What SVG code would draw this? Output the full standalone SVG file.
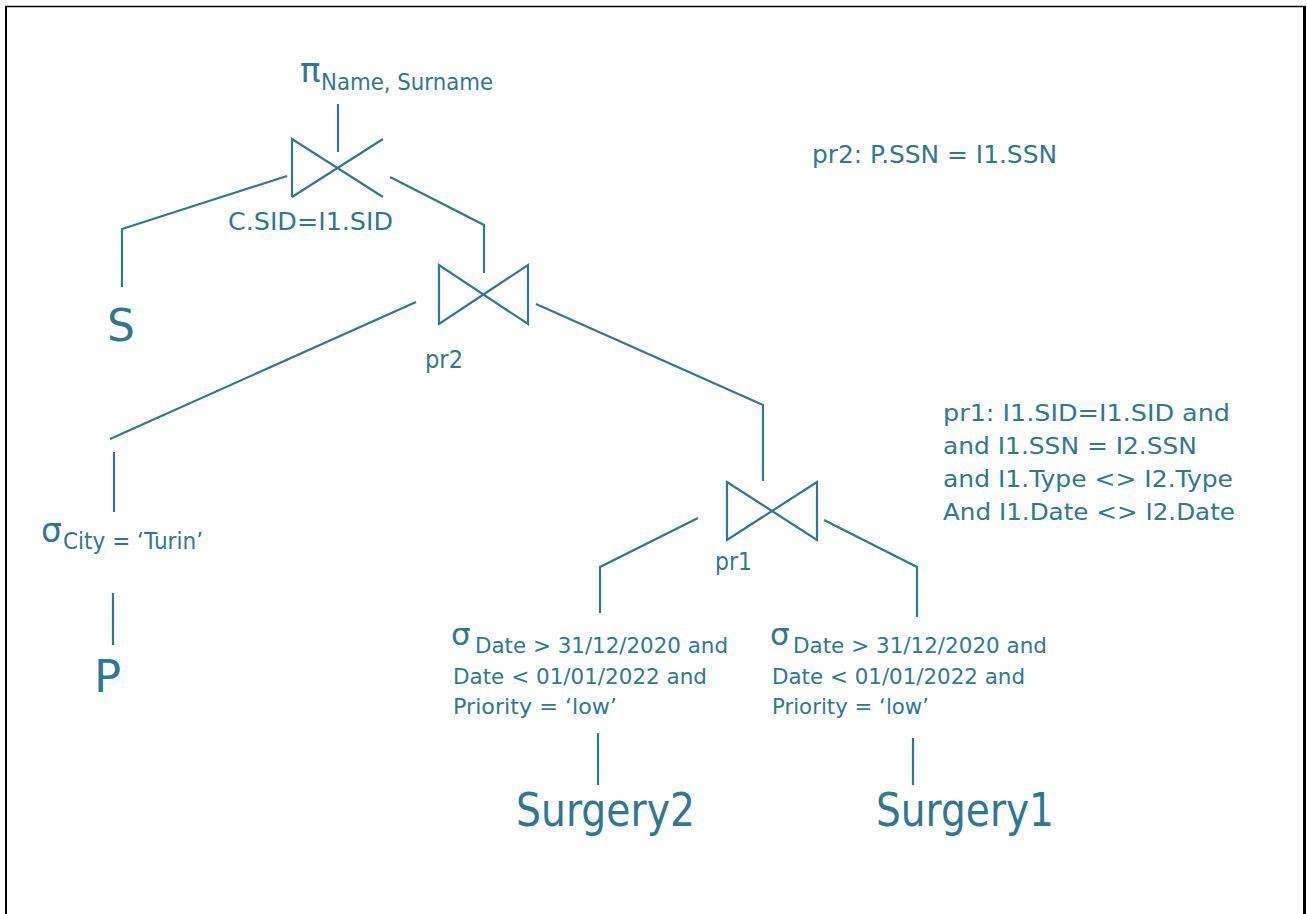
<svg xmlns="http://www.w3.org/2000/svg" width="1307" height="914" viewBox="0 0 1307 914">
<style>
.t{font-family:"DejaVu Sans","Verdana",sans-serif;fill:#2E7891;}
.l{stroke:#2E7891;stroke-width:2.2;fill:none;}
.b{stroke:#000;fill:none;}
</style>
<rect width="1307" height="914" fill="#fff"/>
<g id="frame">
<line class="b" x1="6" y1="6" x2="6" y2="914" stroke-width="2"/>
<line class="b" x1="5" y1="6.5" x2="1305" y2="6.5" stroke-width="1.6"/>
<line class="b" x1="1304.5" y1="6" x2="1304.5" y2="914" stroke-width="3"/>
</g>
<g id="connectors">
<line class="l" x1="338" y1="104" x2="338" y2="152"/>
<polyline class="l" points="287,176 122,229 122,287"/>
<polyline class="l" points="390,177 484,225 484,273"/>
<polyline class="l" points="416,302 110,439"/>
<line class="l" x1="114" y1="452" x2="114" y2="512"/>
<line class="l" x1="113" y1="593" x2="113" y2="645"/>
<polyline class="l" points="536,304 763,405 763,481"/>
<polyline class="l" points="698,518 600,567 600,613"/>
<polyline class="l" points="824,520 917,567 917,617"/>
<line class="l" x1="598" y1="733" x2="598" y2="785"/>
<line class="l" x1="913" y1="738" x2="913" y2="785"/>
</g>
<g id="projection">
<text class="t" x="300" y="82" font-size="34">π</text>
<text class="t" x="321" y="90" font-size="23" textLength="172" lengthAdjust="spacingAndGlyphs">Name, Surname</text>
</g>
<g id="join1">
<path class="l" d="M292,197 L292,139 L383,197 M292,197 L383,139"/>
<text class="t" x="228" y="230" font-size="24" textLength="165" lengthAdjust="spacingAndGlyphs">C.SID=I1.SID</text>
</g>
<g id="S">
<text class="t" x="107" y="341" font-size="44">S</text>
</g>
<g id="join2">
<path class="l" d="M439,265 L439,324 L528,265 L528,324 Z"/>
<text class="t" x="425" y="368" font-size="24" textLength="38" lengthAdjust="spacingAndGlyphs">pr2</text>
</g>
<g id="selectCity">
<text class="t" x="41" y="542" font-size="33">σ</text>
<text class="t" x="63" y="549" font-size="23" textLength="140" lengthAdjust="spacingAndGlyphs">City = ‘Turin’</text>
</g>
<g id="P">
<text class="t" x="94" y="692" font-size="45">P</text>
</g>
<g id="join3">
<path class="l" d="M727,482 L727,540 L817,482 L817,540 Z"/>
<text class="t" x="715" y="570" font-size="24" textLength="37" lengthAdjust="spacingAndGlyphs">pr1</text>
</g>
<g id="selectLeft">
<text class="t" x="451" y="645" font-size="31">σ</text>
<text class="t" x="475" y="653" font-size="22" textLength="253" lengthAdjust="spacingAndGlyphs">Date &gt; 31/12/2020 and</text>
<text class="t" x="453" y="684" font-size="22" textLength="254" lengthAdjust="spacingAndGlyphs">Date &lt; 01/01/2022 and</text>
<text class="t" x="453" y="714" font-size="22" textLength="164" lengthAdjust="spacingAndGlyphs">Priority = ‘low’</text>
</g>
<g id="selectRight">
<text class="t" x="770" y="645" font-size="31">σ</text>
<text class="t" x="793" y="653" font-size="22" textLength="254" lengthAdjust="spacingAndGlyphs">Date &gt; 31/12/2020 and</text>
<text class="t" x="772" y="684" font-size="22" textLength="253" lengthAdjust="spacingAndGlyphs">Date &lt; 01/01/2022 and</text>
<text class="t" x="772" y="714" font-size="22" textLength="157" lengthAdjust="spacingAndGlyphs">Priority = ‘low’</text>
</g>
<g id="Surgery2">
<text class="t" x="516" y="826" font-size="46" textLength="179" lengthAdjust="spacingAndGlyphs">Surgery2</text>
</g>
<g id="Surgery1">
<text class="t" x="876" y="826" font-size="46" textLength="178" lengthAdjust="spacingAndGlyphs">Surgery1</text>
</g>
<g id="legendPr2">
<text class="t" x="812" y="163" font-size="24" textLength="245" lengthAdjust="spacingAndGlyphs">pr2: P.SSN = I1.SSN</text>
</g>
<g id="legendPr1">
<text class="t" x="943" y="421" font-size="23" textLength="287" lengthAdjust="spacingAndGlyphs">pr1: I1.SID=I1.SID and</text>
<text class="t" x="943" y="454" font-size="23" textLength="254" lengthAdjust="spacingAndGlyphs">and I1.SSN = I2.SSN</text>
<text class="t" x="943" y="487" font-size="23" textLength="290" lengthAdjust="spacingAndGlyphs">and I1.Type &lt;&gt; I2.Type</text>
<text class="t" x="943" y="520" font-size="23" textLength="292" lengthAdjust="spacingAndGlyphs">And I1.Date &lt;&gt; I2.Date</text>
</g>
</svg>
